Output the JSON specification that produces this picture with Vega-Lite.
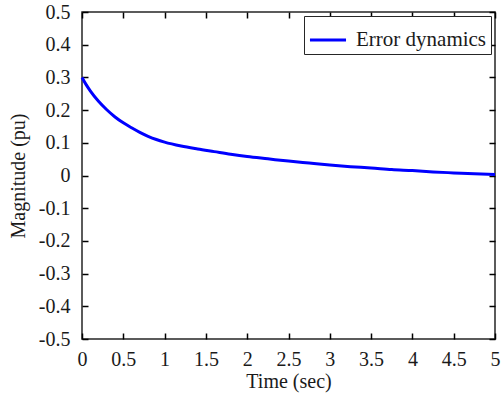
{
  "$schema": "https://vega.github.io/schema/vega-lite/v6.json",
  "width": 413,
  "height": 327,
  "autosize": {"type": "none"},
  "padding": {"left": 82, "top": 12, "right": 7, "bottom": 57},
  "background": "white",
  "config": {
    "view": {"stroke": "#262626", "strokeWidth": 1.5},
    "font": "Liberation Serif",
    "axis": {
      "grid": false,
      "domain": false,
      "labelFont": "Liberation Serif",
      "labelFontSize": 20,
      "labelColor": "#1a1a1a",
      "titleFont": "Liberation Serif",
      "titleFontSize": 20,
      "titleFontWeight": "normal",
      "titleColor": "#1a1a1a"
    }
  },
  "data": {
    "values": [
      {"t": 0.0, "v": 0.300, "s": "Error dynamics"},
      {"t": 0.05, "v": 0.278, "s": "Error dynamics"},
      {"t": 0.1, "v": 0.259, "s": "Error dynamics"},
      {"t": 0.2, "v": 0.227, "s": "Error dynamics"},
      {"t": 0.3, "v": 0.201, "s": "Error dynamics"},
      {"t": 0.4, "v": 0.179, "s": "Error dynamics"},
      {"t": 0.5, "v": 0.161, "s": "Error dynamics"},
      {"t": 0.6, "v": 0.146, "s": "Error dynamics"},
      {"t": 0.7, "v": 0.132, "s": "Error dynamics"},
      {"t": 0.8, "v": 0.120, "s": "Error dynamics"},
      {"t": 0.9, "v": 0.110, "s": "Error dynamics"},
      {"t": 1.0, "v": 0.102, "s": "Error dynamics"},
      {"t": 1.2, "v": 0.090, "s": "Error dynamics"},
      {"t": 1.4, "v": 0.081, "s": "Error dynamics"},
      {"t": 1.6, "v": 0.073, "s": "Error dynamics"},
      {"t": 1.8, "v": 0.065, "s": "Error dynamics"},
      {"t": 2.0, "v": 0.058, "s": "Error dynamics"},
      {"t": 2.25, "v": 0.051, "s": "Error dynamics"},
      {"t": 2.5, "v": 0.044, "s": "Error dynamics"},
      {"t": 2.75, "v": 0.038, "s": "Error dynamics"},
      {"t": 3.0, "v": 0.032, "s": "Error dynamics"},
      {"t": 3.25, "v": 0.027, "s": "Error dynamics"},
      {"t": 3.5, "v": 0.023, "s": "Error dynamics"},
      {"t": 3.75, "v": 0.018, "s": "Error dynamics"},
      {"t": 4.0, "v": 0.015, "s": "Error dynamics"},
      {"t": 4.25, "v": 0.011, "s": "Error dynamics"},
      {"t": 4.5, "v": 0.008, "s": "Error dynamics"},
      {"t": 4.75, "v": 0.005, "s": "Error dynamics"},
      {"t": 5.0, "v": 0.003, "s": "Error dynamics"}
    ]
  },
  "layer": [
    {
      "mark": {"type": "line", "strokeWidth": 3, "interpolate": "monotone"},
      "encoding": {
        "x": {
          "field": "t", "type": "quantitative",
          "scale": {"domain": [0, 5], "nice": false},
          "axis": {"orient": "bottom", "title": "Time (sec)", "values": [0, 0.5, 1, 1.5, 2, 2.5, 3, 3.5, 4, 4.5, 5], "labelExpr": "format(datum.value, '~g')", "labelFont": "Liberation Serif", "labelPadding": 10, "titlePadding": 2, "labelFlush": false, "ticks": true, "tickSize": 6, "offset": -6, "tickColor": "#000000", "tickWidth": 1.5, "tickOpacity": 1}
        },
        "y": {
          "field": "v", "type": "quantitative",
          "scale": {"domain": [-0.5, 0.5], "nice": false},
          "axis": {"orient": "left", "title": "Magnitude (pu)", "values": [-0.5, -0.4, -0.3, -0.2, -0.1, 0, 0.1, 0.2, 0.3, 0.4, 0.5], "labelExpr": "datum.value == 0 ? '0' : (datum.value < 0 ? '-' + format(-datum.value, '.1f') : format(datum.value, '.1f'))", "labelFont": "Liberation Serif", "labelPadding": 12, "titlePadding": 10, "ticks": true, "tickSize": 6, "offset": -6, "tickColor": "#000000", "tickWidth": 1.5, "tickOpacity": 1}
        },
        "color": {
          "field": "s",
          "type": "nominal",
          "scale": {"range": ["#0000FF"]},
          "legend": {
            "title": null,
            "orient": "top-right",
            "offset": 4,
            "strokeColor": "#262626",
            "fillColor": "white",
            "padding": 4,
            "symbolType": "stroke",
            "symbolStrokeWidth": 3,
            "symbolSize": 1300,
            "labelFont": "Liberation Serif",
            "labelFontSize": 21,
            "labelColor": "#1a1a1a",
            "labelOffset": 8
          }
        }
      }
    },
    {
      "mark": {"type": "line", "opacity": 0},
      "encoding": {
        "x": {
          "field": "t", "type": "quantitative",
          "axis": {"orient": "top", "title": null, "labels": false, "values": [0, 0.5, 1, 1.5, 2, 2.5, 3, 3.5, 4, 4.5, 5], "ticks": true, "tickSize": 6, "offset": -6, "tickColor": "#000000", "tickWidth": 1.5, "tickOpacity": 1}
        },
        "y": {
          "field": "v", "type": "quantitative",
          "axis": {"orient": "right", "title": null, "labels": false, "values": [-0.5, -0.4, -0.3, -0.2, -0.1, 0, 0.1, 0.2, 0.3, 0.4, 0.5], "ticks": true, "tickSize": 6, "offset": -6, "tickColor": "#000000", "tickWidth": 1.5, "tickOpacity": 1}
        }
      }
    }
  ],
  "resolve": {"axis": {"x": "independent", "y": "independent"}}
}
